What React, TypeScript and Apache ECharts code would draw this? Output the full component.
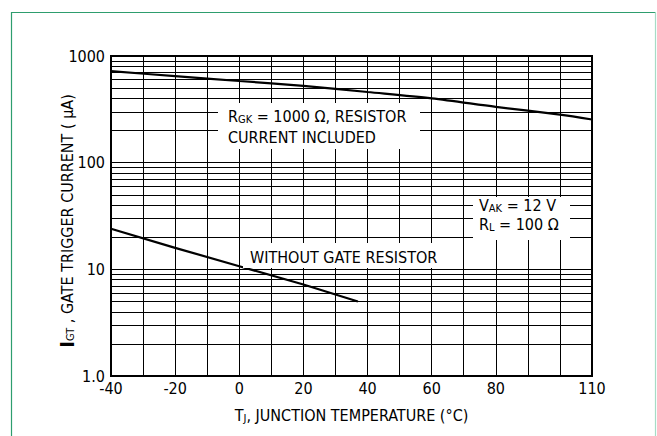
import React, { useEffect, useRef } from "react";
import * as echarts from "echarts";

// Data
const tempsWithResistor = [-40, -20, 0, 20, 40, 60, 80, 100, 110];
const igtWithResistor = [720, 648, 583, 525, 460, 401, 334, 282, 254];
const tempsWithoutResistor = [-40, -20, 0, 20, 37];
const igtWithoutResistor = [24, 15.9, 10.7, 7.2, 5.0];
const xTickLabels = ["-40", "-20", "0", "20", "40", "60", "80", "110"];
const yTickLabels: Record<string, string> = { "1": "1.0", "10": "10", "100": "100", "1000": "1000" };
const minorGridValues = [2, 3, 4, 5, 6, 7, 8, 9, 20, 30, 40, 50, 60, 70, 80, 90, 200, 300, 400, 500, 600, 700, 800, 900];

const FONT = "'DejaVu Sans Condensed', 'Liberation Sans Narrow', Roboto, sans-serif";
const FS = 16;

export default function App() {
  const ref = useRef<HTMLDivElement>(null);
  useEffect(() => {
    if (!ref.current) return;
    const chart = echarts.init(ref.current, undefined, { renderer: "svg" });
    const sub = { fontSize: 11, lineHeight: 12, fontFamily: FONT, color: "#000", padding: [6, 0, 0, 0] };
    const norm = { fontSize: FS, lineHeight: 16, fontFamily: FONT, color: "#000" };
    const big = { fontSize: 20, lineHeight: 18, fontFamily: FONT, color: "#000", fontWeight: "bold" };
    const txt = (x: number, y: number, text: string) => ({
      type: "text",
      x,
      y,
      z: 101,
      style: {
        text,
        fill: "#000",
        font: `${FS}px ${FONT}`,
        verticalAlign: "middle",
        rich: { n: norm, s: sub },
      },
    });
    chart.setOption({
      animation: false,
      backgroundColor: "#fff",
      grid: {
        left: 111,
        right: 65,
        top: 56,
        bottom: 60,
        show: true,
        borderColor: "#000",
        borderWidth: 2,
      },
      xAxis: {
        type: "value",
        min: -40,
        max: 110,
        interval: 10,
        name: "{n|T}{s|J}{n|, JUNCTION TEMPERATURE (°C)}",
        nameLocation: "middle",
        nameGap: 31,
        nameTextStyle: { rich: { n: norm, s: sub } },
        axisLine: { show: true, onZero: false, lineStyle: { color: "#000", width: 2 } },
        axisTick: { show: false },
        axisLabel: {
          color: "#000",
          fontSize: FS,
          fontFamily: FONT,
          margin: 4,
          showMaxLabel: true,
          showMinLabel: true,
          formatter: (v: number) => (xTickLabels.includes(String(v)) ? String(v) : ""),
        },
        splitLine: { show: true, lineStyle: { color: "#000", width: 1 } },
      },
      yAxis: {
        type: "log",
        logBase: 10,
        min: 1,
        max: 1000,
        axisLine: { show: true, onZero: false, lineStyle: { color: "#000", width: 2 } },
        axisTick: { show: false },
        axisLabel: {
          color: "#000",
          fontSize: FS,
          fontFamily: FONT,
          margin: 6,
          formatter: (v: number) => yTickLabels[String(Math.round(v))] ?? "",
        },
        splitLine: { show: true, lineStyle: { color: "#000", width: 1 } },
      },
      series: [
        {
          type: "line",
          data: tempsWithResistor.map((t, i) => [t, igtWithResistor[i]]),
          symbol: "none",
          smooth: 0.3,
          lineStyle: { color: "#000", width: 2.2 },
          z: 5,
          markLine: {
            silent: true,
            symbol: ["none", "none"],
            label: { show: false },
            lineStyle: { color: "#000", width: 1, type: "solid" },
            data: minorGridValues.map((v) => ({ yAxis: v })),
            z: 1,
          },
        },
        {
          type: "line",
          data: tempsWithoutResistor.map((t, i) => [t, igtWithoutResistor[i]]),
          symbol: "none",
          lineStyle: { color: "#000", width: 2.2 },
          z: 5,
        },
      ],
      graphic: [
        {
          type: "polyline",
          z: 50,
          shape: { points: [[11.5, 436], [11.5, 12.5], [655.5, 12.5]] },
          style: { stroke: "#2e9d6e", lineWidth: 1.2, fill: "none" },
        },
        {
          type: "line",
          z: 50,
          shape: { x1: 655.5, y1: 12.5, x2: 655.5, y2: 436 },
          style: { stroke: "#a6dcc6", lineWidth: 1.2 },
        },
        {
          type: "text",
          x: 67,
          y: 221,
          rotation: Math.PI / 2,
          z: 101,
          style: {
            text: "{b|I}{s|GT}{n| , GATE TRIGGER CURRENT ( μA)}",
            fill: "#000",
            font: `${FS}px ${FONT}`,
            align: "center",
            verticalAlign: "middle",
            rich: { n: norm, s: sub, b: big },
          },
        },
        { type: "rect", z: 100, shape: { x: 218, y: 103, width: 202, height: 46 }, style: { fill: "#fff" } },
        txt(228, 116, "{n|R}{s|GK}{n| = 1000 Ω, RESISTOR}"),
        txt(228, 137, "CURRENT INCLUDED"),
        { type: "rect", z: 100, shape: { x: 473, y: 197, width: 97, height: 43 }, style: { fill: "#fff" } },
        txt(479, 205, "{n|V}{s|AK}{n| = 12 V}"),
        txt(479, 224, "{n|R}{s|L}{n| = 100 Ω}"),
        { type: "rect", z: 100, shape: { x: 243, y: 243, width: 207, height: 25 }, style: { fill: "#fff" } },
        txt(250, 257, "WITHOUT GATE RESISTOR"),
      ],
    });
    return () => chart.dispose();
  }, []);
  return (
    <div
      ref={ref}
      style={{ position: "fixed", left: 0, top: 0, width: 657, height: 436 }}
    />
  );
}
